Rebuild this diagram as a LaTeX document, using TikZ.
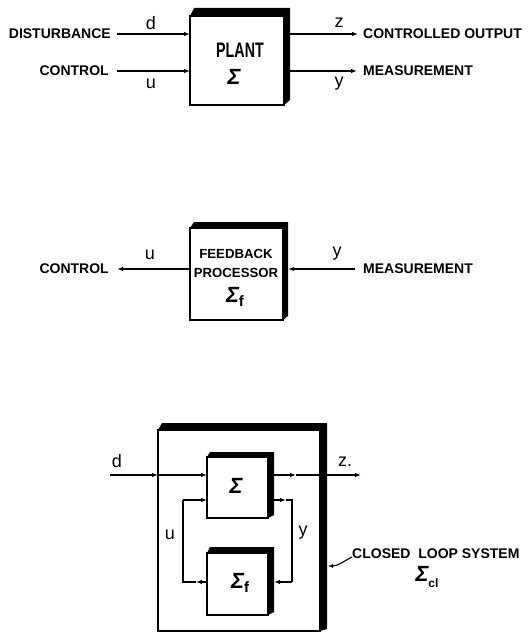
\documentclass[tikz,border=0pt]{standalone}
\usepackage{fontspec}
\setmainfont{Liberation Sans}
\newfontfamily\condfont[FakeStretch=0.68]{Liberation Sans}
\usetikzlibrary{arrows.meta}
\begin{document}
\begin{tikzpicture}[x=1pt,y=-1pt,
  box/.style={draw, line width=1.3pt, inner sep=0pt, outer sep=0pt, anchor=north west},
  caps/.style={font=\bfseries\fontsize{14}{14}\selectfont, inner sep=0pt},
  capsb/.style={font=\bfseries\fontsize{13.2}{13.2}\selectfont, inner sep=0pt},
  lbl/.style={font=\fontsize{18}{18}\selectfont, inner sep=0pt},
  sig/.style={font=\bfseries\itshape\fontsize{22}{22}\selectfont, inner sep=0pt},
  wire/.style={line width=1.1pt},
  arr/.style={wire, -{Latex[length=6pt,width=4.5pt]}}]
\useasboundingbox (0,0) rectangle (530,634);

% ---------------- top: plant ----------------
\node[box, minimum width=94pt, minimum height=89pt] (plant) at (190,16) {};
\fill (plant.north west) -- ++(4,-8) -- ([shift={(6,-8)}]plant.north east)
  -- ([shift={(6,-5)}]plant.south east) -- (plant.south east) -- (plant.north east) -- cycle;
\node[font=\condfont\bfseries\fontsize{21}{21}\selectfont, inner sep=0pt] (plantlbl) at (240,50) {PLANT};
\node[sig] (plantsig) at (234,77) {Σ};

\node[caps, anchor=east] (dist) at (111,34) {DISTURBANCE};
\node[caps, anchor=east] (ctrl) at (109,71) {CONTROL};
\node[caps, anchor=west] (cout) at (363,34) {CONTROLLED OUTPUT};
\node[caps, anchor=west] (meas) at (363,71) {MEASUREMENT};
\node[lbl] (d1) at (151,23) {d};
\node[lbl] (u1) at (151,84) {u};
\node[lbl] (z1) at (339,23) {z};
\node[lbl] (y1) at (339,84) {y};

\draw[arr] ([xshift=6pt]dist.east) -- (plant.west |- dist.east);
\draw[arr] ([xshift=8pt]ctrl.east) -- (plant.west |- ctrl.east);
\draw[arr] (plant.east |- cout.west) -- ([xshift=-5pt]cout.west);
\draw[arr] (plant.east |- meas.west) -- ([xshift=-6pt]meas.west);

% ---------------- middle: feedback processor ----------------
\node[box, minimum width=93pt, minimum height=92pt] (fb) at (190,228) {};
\fill (fb.north west) -- ++(4,-6) -- ([shift={(5,-6)}]fb.north east)
  -- ([shift={(5,-4)}]fb.south east) -- (fb.south east) -- (fb.north east) -- cycle;
\node[capsb] (fbl1) at (236,254) {FEEDBACK};
\node[capsb] (fbl2) at (236,273) {PROCESSOR};
\node[sig] (fbsig) at (235,297) {Σ\raisebox{-4pt}{\upshape\fontsize{15}{15}\selectfont f}};

\node[caps, anchor=east] (ctrl2) at (109,269) {CONTROL};
\node[caps, anchor=west] (meas2) at (363,269) {MEASUREMENT};
\node[lbl] (u2) at (150,255) {u};
\node[lbl] (y2) at (337,254) {y};

\draw[arr] (fb.west |- ctrl2.east) -- ([xshift=8pt]ctrl2.east);
\draw[arr] ([xshift=-8pt]meas2.west) -- ([xshift=5pt]fb.east |- meas2.west);

% ---------------- bottom: closed loop system ----------------
\node[box, minimum width=162pt, minimum height=201pt] (cl) at (158,430) {};
\fill (cl.north west) -- ++(4,-7) -- ([shift={(7,-7)}]cl.north east)
  -- ([shift={(7,-2)}]cl.south east) -- (cl.south east) -- (cl.north east) -- cycle;

\node[box, minimum width=61pt, minimum height=61pt] (s) at (207,457) {};
\fill (s.north west) -- ++(3,-5) -- ([shift={(6,-5)}]s.north east)
  -- ([shift={(6,-3)}]s.south east) -- (s.south east) -- (s.north east) -- cycle;
\node[box, minimum width=61pt, minimum height=62pt] (sf) at (207,553) {};
\fill (sf.north west) -- ++(3,-6) -- ([shift={(6,-6)}]sf.north east)
  -- ([shift={(6,-3)}]sf.south east) -- (sf.south east) -- (sf.north east) -- cycle;
\node[sig] (ssig) at (236,486) {Σ};
\node[sig] (sfsig) at (240,583) {Σ\raisebox{-4pt}{\upshape\fontsize{15}{15}\selectfont f}};

\coordinate (din) at (110,475);
\coordinate (zmid) at (296,475);
\coordinate (zend) at (361,475);
\node[lbl] (d3) at (117,461) {d};
\node[lbl] (z3) at (345,462) {z.};
\draw[arr] (din) -- (cl.west |- din);
\draw[arr] (cl.west |- din) -- (s.west |- din);
\draw[arr] (s.east |- zmid) -- (zmid);
\draw[arr] (zmid) -- (zend);

% u loop
\coordinate (ul) at (183,500);
\coordinate (ub) at (183,582);
\coordinate (ubm) at (196,582);
\draw[arr] (sf.west |- ub) -- (ubm);
\draw[wire] (ubm) -- (ub) -- (ul);
\draw[arr] (ul) -- (s.west |- ul);
\node[lbl] (u3) at (170,535) {u};

% y loop
\coordinate (yr) at (292,500);
\coordinate (yb) at (292,582);
\coordinate (ytm) at (286,500);
\draw[arr] (s.east |- yr) -- (ytm);
\draw[wire] (ytm) -- (yr) -- (yb);
\draw[arr] (yb) -- ([xshift=6pt]sf.east |- yb);
\node[lbl] (y3) at (303,533) {y};

% label
\node[caps, anchor=west] (clt) at (352,554) {CLOSED\ \ LOOP SYSTEM};
\draw[wire, -{Latex[length=5pt,width=4pt]}] ([shift={(0,3)}]clt.west)
  .. controls (344,561) and (338,566) .. ([xshift=8pt]cl.east |- 0,566);
\node[sig] (sigcl) at (427,577) {Σ\raisebox{-6pt}{\bfseries\upshape\fontsize{12}{12}\selectfont cl}};
\end{tikzpicture}
\end{document}
